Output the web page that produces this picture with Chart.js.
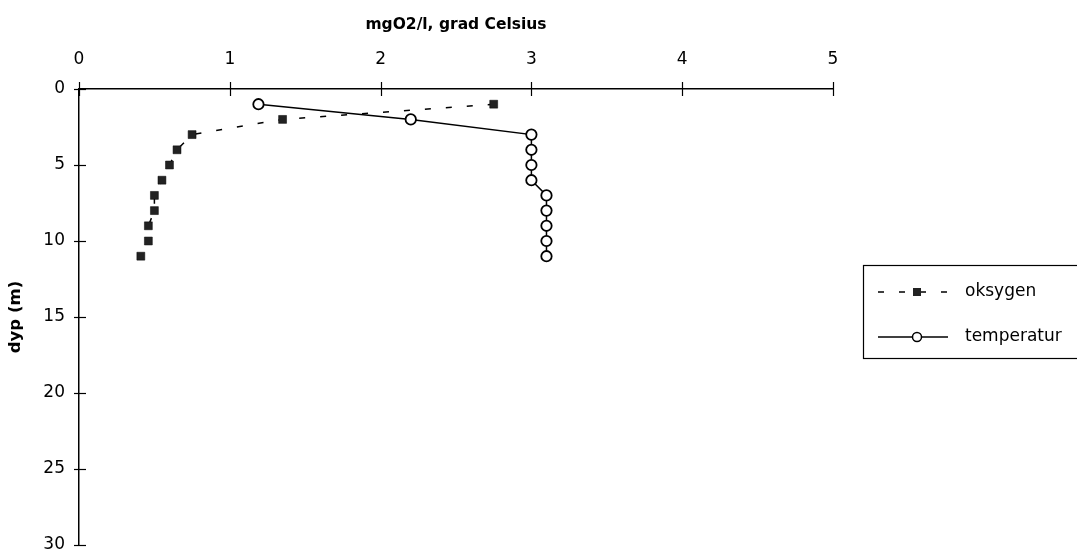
<!DOCTYPE html>
<html>
<head>
<meta charset="utf-8">
<script src="https://cdn.jsdelivr.net/npm/chart.js@4/dist/chart.umd.min.js"></script>
<style>
html,body{margin:0;padding:0;background:#fff;}
#wrap{width:1077px;height:553px;position:relative;}
</style>
</head>
<body>
<div id="wrap"><canvas id="chart" width="1077" height="553"></canvas></div>
<script>
// dybde (m) og måleverdier
const depths=[1,2,3,4,5,6,7,8,9,10,11];
const oksygen=[2.75,1.35,0.75,0.65,0.6,0.55,0.5,0.5,0.46,0.46,0.41];
const temperatur=[1.19,2.2,3.0,3.0,3.0,3.0,3.1,3.1,3.1,3.1,3.1];
const xTicks=[0,1,2,3,4,5];
const yTicks=[0,5,10,15,20,25,30];
const seriesNames=['oksygen','temperatur'];

const FONT='"DejaVu Sans", sans-serif';

function toPoints(vals){return vals.map((v,i)=>({x:v,y:depths[i]}));}

// kryssende tick-streker på aksene
const crossTicks={
  id:'crossTicks',
  afterDraw(chart){
    const ctx=chart.ctx,xs=chart.scales.x,ys=chart.scales.y;
    ctx.save();ctx.strokeStyle='#000';ctx.lineWidth=1.2;
    const top=ys.getPixelForValue(0),left=xs.getPixelForValue(0);
    xTicks.forEach(v=>{const px=Math.round(xs.getPixelForValue(v))+0.5;ctx.beginPath();ctx.moveTo(px,top-7);ctx.lineTo(px,top+7);ctx.stroke();});
    yTicks.forEach(v=>{const py=Math.round(ys.getPixelForValue(v))+0.5;ctx.beginPath();ctx.moveTo(left-5,py);ctx.lineTo(left+7,py);ctx.stroke();});
    ctx.restore();
  }
};

// legende med ramme
const boxLegend={
  id:'boxLegend',
  afterDraw(chart){
    const ctx=chart.ctx;
    ctx.save();
    ctx.strokeStyle='#000';ctx.lineWidth=1.2;
    ctx.strokeRect(863.5,265.5,230,93);
    const rows=[292,337];
    chart.data.datasets.forEach((ds,i)=>{
      const y=rows[i];
      ctx.strokeStyle='#000';ctx.lineWidth=ds.borderWidth;
      ctx.setLineDash(ds.borderDash||[]);
      ctx.beginPath();ctx.moveTo(878,y);ctx.lineTo(948,y);ctx.stroke();
      ctx.setLineDash([]);
      if(ds.pointStyle==='rect'){
        ctx.fillStyle=ds.pointBackgroundColor;ctx.fillRect(913,y-4,8,8);
      }else{
        ctx.fillStyle='#fff';ctx.lineWidth=1.5;
        ctx.beginPath();ctx.arc(917,y,4.5,0,Math.PI*2);ctx.fill();ctx.stroke();
      }
      ctx.fillStyle='#000';ctx.font='17px '+FONT;ctx.textBaseline='middle';
      ctx.fillText(ds.label,965,y);
    });
    ctx.restore();
  }
};

new Chart(document.getElementById('chart'),{
  type:'scatter',
  data:{datasets:[
    {label:seriesNames[0],data:toPoints(oksygen),showLine:true,borderColor:'#000',borderWidth:1.5,borderDash:[6,15],
     pointStyle:'rect',pointRadius:5.6,pointBackgroundColor:'#222',pointBorderColor:'#000',pointBorderWidth:0.5},
    {label:seriesNames[1],data:toPoints(temperatur),showLine:true,borderColor:'#000',borderWidth:1.5,
     pointStyle:'circle',pointRadius:5.2,pointBackgroundColor:'#fff',pointBorderColor:'#000',pointBorderWidth:1.8}
  ]},
  options:{
    responsive:false,animation:false,
    layout:{padding:{left:0,top:0,right:244,bottom:8}},
    plugins:{legend:{display:false},tooltip:{enabled:false}},
    scales:{
      x:{type:'linear',position:'top',min:0,max:5,
        afterBuildTicks:s=>{s.ticks=xTicks.map(v=>({value:v}));},
        afterFit:s=>{s.height=89;s.paddingLeft=0;s.paddingRight=0;},
        grid:{display:false,drawTicks:false},
        border:{display:true,color:'#000',width:1.5},
        ticks:{color:'#000',font:{family:FONT,size:17},padding:19},
        title:{display:true,text:'mgO2/l, grad Celsius',color:'#000',font:{family:FONT,size:15.5,weight:'bold'},padding:{top:16,bottom:6}}
      },
      y:{type:'linear',reverse:true,min:0,max:30,
        afterBuildTicks:s=>{s.ticks=yTicks.map(v=>({value:v}));},
        afterFit:s=>{s.width=79;s.paddingTop=0;s.paddingBottom=0;},
        grid:{display:false,drawTicks:false},
        border:{display:true,color:'#000',width:1.5},
        ticks:{color:'#000',font:{family:FONT,size:17},padding:14},
        title:{display:true,text:'dyp (m)',color:'#000',font:{family:FONT,size:16.5,weight:'bold'},padding:{top:6,bottom:0}}
      }
    }
  },
  plugins:[crossTicks,boxLegend]
});
</script>
</body>
</html>
